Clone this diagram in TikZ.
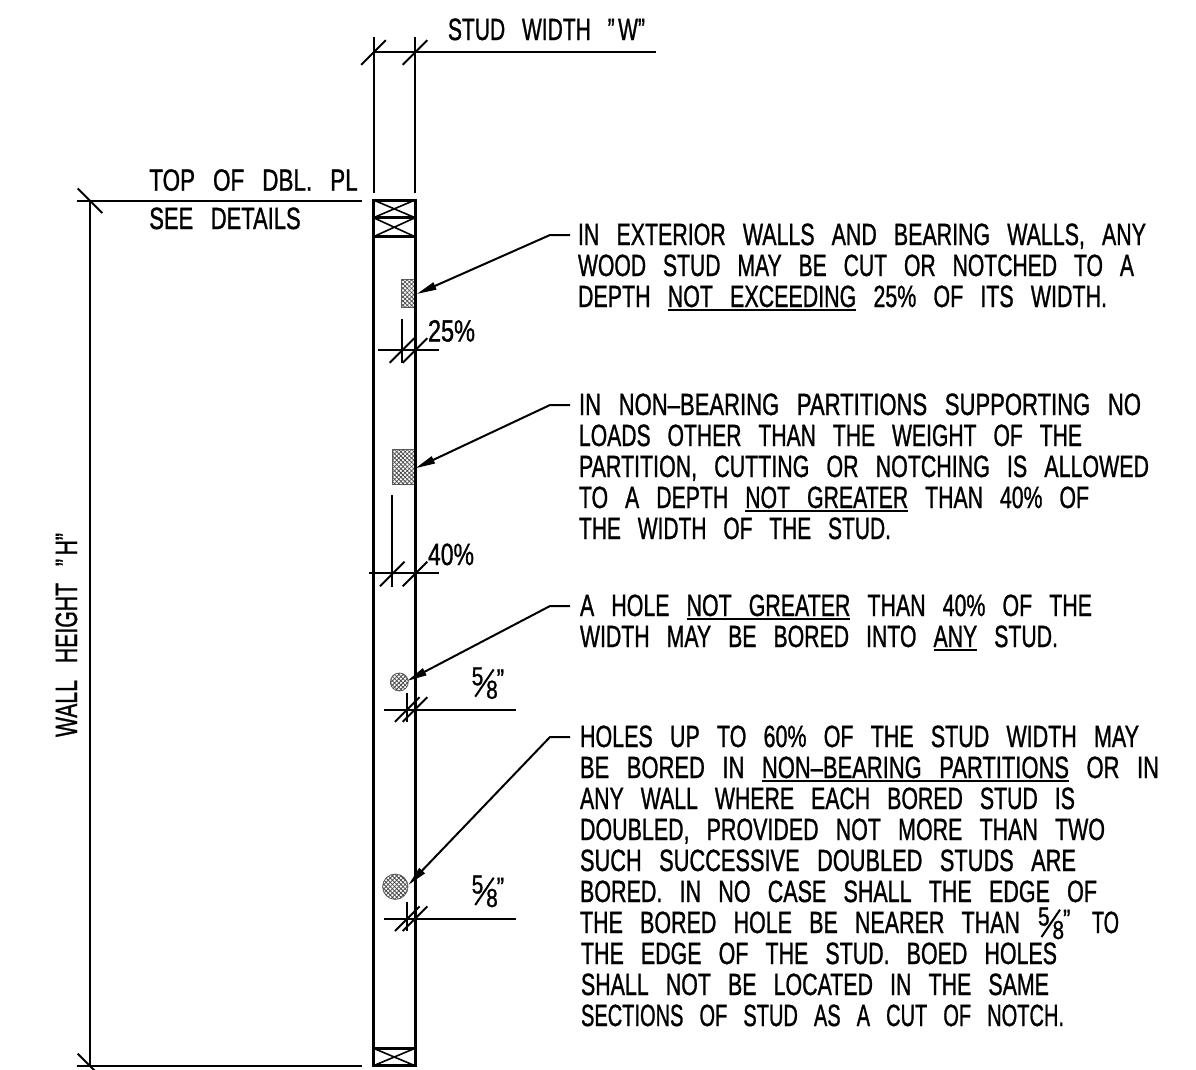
\documentclass[tikz,border=0pt]{standalone}
\usepackage{graphicx}
\usepackage{fontspec}
\setmainfont[FakeBold=1.2]{Liberation Sans}
\usetikzlibrary{arrows.meta,patterns.meta}
\newsavebox\tbx
\newcommand\ulx[1]{\setbox0\hbox{#1}\rlap{\raisebox{-3.6pt}{\rule{\wd0}{2pt}}}\box0{}}
\newcommand\fitw[2]{\sbox\tbx{\spaceskip=.8em\relax #2}\pgfmathsetmacro\rr{#1/(\wd\tbx/1pt)}\scalebox{\rr}[1]{\usebox\tbx}}
\newcommand\txtl[5]{\node[tx] (#1) at (#2,#3-1) {\fitw{#4}{#5}};}
\newcommand\tickmark[2]{\draw[thinln] (#1-12.3,#2+12.3) -- (#1+12.3,#2-12.3);}
\newcommand\frc[3]{%
  \node[fr] (#3a) at (#1,#2+18.5) {\scalebox{.8}[1]{5}};
  \node[fr] (#3b) at (#1+14.5,#2+32) {\scalebox{.8}[1]{8}};
  \node[qm] (#3c) at (#1+25,#2+22) {\scalebox{.8}[1]{”}};
  \coordinate (#3s) at (#1+3.5,#2+30);
  \coordinate (#3e) at (#1+22,#2+2.7);
  \draw[thinln] (#3s) -- (#3e);}
\tikzset{
  tx/.style={anchor=base west,inner sep=0pt,outer sep=0pt,font=\fontsize{30.7}{32}\selectfont},
  fr/.style={anchor=base west,inner sep=0pt,outer sep=0pt,font=\fontsize{26}{26}\selectfont},
  qm/.style={anchor=base west,inner sep=0pt,outer sep=0pt,font=\fontsize{28}{28}\selectfont},
  thinln/.style={line width=2pt,black},
  stud/.style={line width=3pt,black},
  xln/.style={line width=1.6pt,black},
  leader/.style={line width=2pt,black,-{Triangle[length=20pt,width=7.5pt]}},
  hatch/.style={draw=black!60,line width=.8pt,
    postaction={pattern={Lines[angle=45,distance=3pt,line width=.8pt]},pattern color=black!70},
    postaction={pattern={Lines[angle=-45,distance=3pt,line width=.8pt]},pattern color=black!70}},
}
\begin{document}
\begin{tikzpicture}[x=1pt,y=-1pt]
\useasboundingbox (0,0) rectangle (1196,1069);
\fill[white] (0,0) rectangle (1196,1069);
% notches and holes
\path[hatch] (401.7,279) rectangle (415,307.7);
\path[hatch] (392.3,449.3) rectangle (415,484.3);
\path[hatch] (399.3,682) circle (9);
\path[hatch] (395.3,886.7) circle (12.7);
% stud
\draw[stud] (373.5,200) -- (373.5,1065.7);
\draw[stud] (415,200) -- (415,1065.7);
\draw[stud] (372,200) -- (416.5,200);
\draw[stud] (372,217.7) -- (416.5,217.7);
\draw[stud] (372,236.7) -- (416.5,236.7);
\draw[stud] (372,1048.3) -- (416.5,1048.3);
\draw[stud] (372,1065.7) -- (416.5,1065.7);
\draw[xln] (373.5,200) -- (415,217.7) (373.5,217.7) -- (415,200);
\draw[xln] (373.5,217.7) -- (415,236.7) (373.5,236.7) -- (415,217.7);
\draw[xln] (373.5,1048.3) -- (415,1065.7) (373.5,1065.7) -- (415,1048.3);
% stud width dimension
\draw[thinln] (373.5,37.3) -- (373.5,193);
\draw[thinln] (415,37.3) -- (415,193);
\draw[thinln] (373.5,52.3) -- (656,52.3);
\tickmark{373.5}{52.5}
\tickmark{415}{52.5}
% wall height dimension
\draw[thinln] (76.7,200.7) -- (361.7,200.7);
\draw[thinln] (76.7,1066) -- (361.7,1066);
\draw[thinln] (90,200.7) -- (90,1066);
\draw[thinln] (77.7,188.4) -- (102.3,213);
\draw[thinln] (77.7,1053.7) -- (102.3,1078.3);
% 25 percent
\draw[thinln] (402,319) -- (402,362.7);
\draw[thinln] (378,350) -- (439,350);
\tickmark{402}{350.5}
\tickmark{415}{350.5}
% 40 percent
\draw[thinln] (392.3,495) -- (392.3,586.7);
\draw[thinln] (369.3,573.3) -- (439,573.3);
\tickmark{392.3}{574}
\tickmark{415}{574}
% 5/8 dims
\draw[thinln] (407.3,693.3) -- (407.3,721.7);
\draw[thinln] (384,710.3) -- (516,710.3);
\tickmark{407.3}{709.5}
\tickmark{415}{709.5}
\draw[thinln] (407.3,902.3) -- (407.3,931);
\draw[thinln] (384,918.7) -- (516,918.7);
\tickmark{407.3}{918.7}
\tickmark{415}{918.7}
% leaders
\coordinate (a1) at (570,235); \coordinate (k1) at (550,235); \coordinate (n1) at (416.7,294);
\coordinate (a2) at (570,405); \coordinate (k2) at (550,405); \coordinate (n2) at (415.3,468.3);
\coordinate (a3) at (570,606); \coordinate (k3) at (550,606); \coordinate (n3) at (407,681);
\coordinate (a4) at (570,737); \coordinate (k4) at (550,737); \coordinate (n4) at (408.3,885);
\draw[leader] (a1) -- (k1) -- (n1);
\draw[leader] (a2) -- (k2) -- (n2);
\draw[leader] (a3) -- (k3) -- (n3);
\draw[leader] (a4) -- (k4) -- (n4);
% labels
\txtl{w}{448}{41}{197}{STUD WIDTH ”\,W”}
\txtl{top}{149.3}{191.7}{208.4}{TOP OF DBL. PL}
\txtl{see}{149.3}{230}{151.4}{SEE DETAILS}
\node[tx,rotate=90] (h) at (77,737) {\fitw{204}{WALL HEIGHT ”\,H”}};
\txtl{p25}{428}{342.5}{47}{25\%}
\txtl{p40}{428}{566}{46}{40\%}
\frc{471.7}{666.7}{fa}
\frc{471.7}{875}{fb}
% block 1
\txtl{l1}{578}{246}{568}{IN EXTERIOR WALLS AND BEARING WALLS, ANY}
\txtl{l2}{578}{277}{556}{WOOD STUD MAY BE CUT OR NOTCHED TO A}
\txtl{l3}{578}{308}{529}{DEPTH \ulx{NOT EXCEEDING} 25\% OF ITS WIDTH.}
% block 2
\txtl{m1}{579}{416}{562}{IN NON–BEARING PARTITIONS SUPPORTING NO}
\txtl{m2}{579}{447}{503}{LOADS OTHER THAN THE WEIGHT OF THE}
\txtl{m3}{579}{478}{570}{PARTITION, CUTTING OR NOTCHING IS ALLOWED}
\txtl{m4}{579}{509}{510}{TO A DEPTH \ulx{NOT GREATER} THAN 40\% OF}
\txtl{m5}{579}{540}{312}{THE WIDTH OF THE STUD.}
% block 3
\txtl{n1t}{580}{617}{512}{A HOLE \ulx{NOT GREATER} THAN 40\% OF THE}
\txtl{n2t}{580}{648}{478}{WIDTH MAY BE BORED INTO \ulx{ANY} STUD.}
% block 4
\txtl{q1}{580}{748}{559}{HOLES UP TO 60\% OF THE STUD WIDTH MAY}
\txtl{q2}{580}{779}{579}{BE BORED IN \ulx{NON–BEARING PARTITIONS} OR IN}
\txtl{q3}{580}{810}{495}{ANY WALL WHERE EACH BORED STUD IS}
\txtl{q4}{580}{841}{525}{DOUBLED, PROVIDED NOT MORE THAN TWO}
\txtl{q5}{580}{872}{496}{SUCH SUCCESSIVE DOUBLED STUDS ARE}
\txtl{q6}{580}{903}{517}{BORED. IN NO CASE SHALL THE EDGE OF}
\txtl{q7a}{580}{934}{440}{THE BORED HOLE BE NEARER THAN}
\frc{1038}{907}{fc}
\txtl{q7b}{1092}{934}{27}{TO}
\txtl{q8}{581}{965}{476}{THE EDGE OF THE STUD. BOED HOLES}
\txtl{q9}{581}{996}{468}{SHALL NOT BE LOCATED IN THE SAME}
\txtl{q10}{581}{1027}{483}{SECTIONS OF STUD AS A CUT OF NOTCH.}
\end{tikzpicture}
\end{document}
